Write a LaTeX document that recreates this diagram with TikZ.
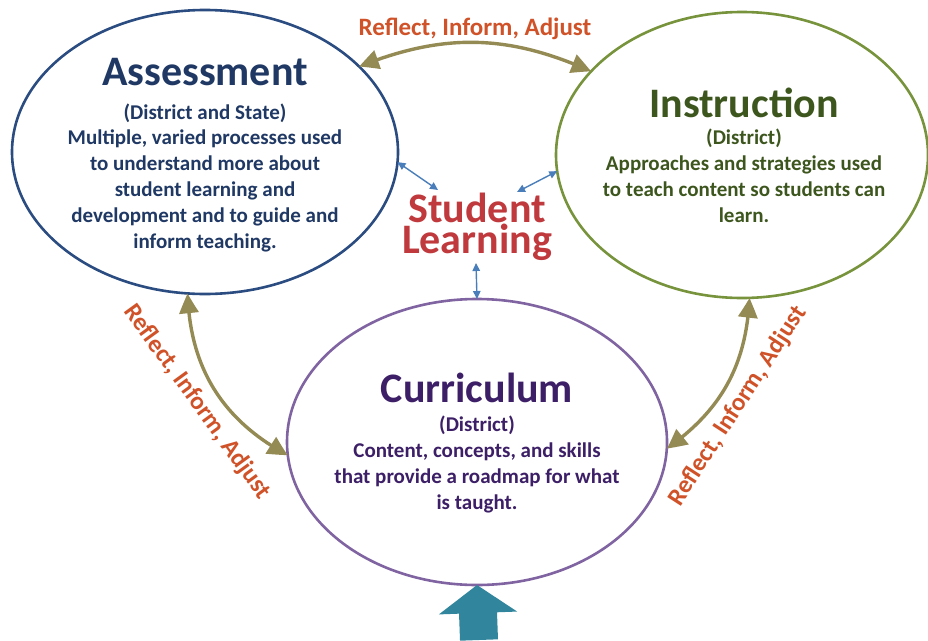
\documentclass[tikz,border=0pt]{standalone}
\usepackage{fontspec}
\setmainfont{Carlito}
\usetikzlibrary{shapes.geometric,arrows.meta,bending}
\definecolor{asmtline}{HTML}{2B4C80}
\definecolor{asmttext}{HTML}{1F3864}
\definecolor{instline}{HTML}{77933C}
\definecolor{insttext}{HTML}{3D561E}
\definecolor{curline}{HTML}{8064A2}
\definecolor{curtext}{HTML}{3C1F66}
\definecolor{slred}{HTML}{BF393D}
\definecolor{rialab}{HTML}{D05228}
\definecolor{olivearr}{HTML}{948A54}
\definecolor{smallblue}{HTML}{4A7EBB}
\definecolor{tealarr}{HTML}{31859C}
\begin{document}
\begin{tikzpicture}[x=1pt,y=-1pt,
  ell/.style={ellipse, inner sep=0pt, outer sep=0pt, line width=2.6pt, fill=white},
  title/.style={font=\fontsize{42}{50}\selectfont\bfseries, anchor=base, inner sep=0pt},
  body/.style={font=\fontsize{21}{25.8}\selectfont\bfseries, anchor=base, align=center, inner sep=0pt},
  rialabel/.style={font=\fontsize{25}{30}\selectfont\bfseries, text=rialab, inner sep=0pt},
  olivecon/.style={draw=olivearr, line width=3.4pt, {Triangle[length=20pt,width=19pt,bend]}-{Triangle[length=20pt,width=19pt,bend]}},
  bluecon/.style={draw=smallblue, line width=1.4pt, {Triangle[length=8pt,width=7.5pt]}-{Triangle[length=8pt,width=7.5pt]}}
]
\useasboundingbox (0,0) rectangle (928,640);

% ellipses
\node[ell, draw=asmtline, minimum width=386pt, minimum height=284pt] (A) at (205,152) {};
\node[ell, draw=instline, minimum width=372pt, minimum height=286pt] (I) at (742,155) {};
\node[ell, draw=curline, minimum width=380pt, minimum height=286pt] (C) at (477,442) {};

% Assessment text (base = last line baseline)
\node[title, text=asmttext] (At) at (205,85) {Assessment};
\node[body, text=asmttext] (Ab) at (205,248) {(District and State)\\Multiple, varied processes used\\to understand more about\\student learning and\\development and to guide and\\inform teaching.};

% Instruction text
\node[title, text=insttext] (It) at (744,117) {Instruction};
\node[body, text=insttext] (Ib) at (744,222) {(District)\\Approaches and strategies used\\to teach content so students can\\learn.};

% Curriculum text
\node[title, text=curtext] (Ct) at (477,402) {Curriculum};
\node[body, text=curtext] (Cb) at (477,509) {(District)\\Content, concepts, and skills\\that provide a roadmap for what\\is taught.};

% Student Learning
\node[font=\fontsize{42}{31}\selectfont\bfseries, text=slred, align=center, anchor=base, inner sep=0pt] (SL) at (477,253) {Student\\Learning};

% reflect labels
\node[rialabel, anchor=base] (L1) at (475,35) {Reflect, Inform, Adjust};
\node[rialabel, rotate=-54] (L2) at (197,402) {Reflect, Inform, Adjust};
\node[rialabel, rotate=57] (L3) at (738,406) {Reflect, Inform, Adjust};

% olive connectors
\draw[olivecon] (A.29) to[bend left=23] (I.151);
\draw[olivecon] (A.-97) to[bend right=30] (C.184);
\draw[olivecon] (I.-87) to[bend left=26] (C.-2);

% small blue connectors
\coordinate (s1) at (438,190);
\coordinate (s2) at (517,192);
\coordinate (s3) at (476,263);
\draw[bluecon] (A.-3) -- (s1);
\draw[bluecon] (s2) -- (I.185);
\draw[bluecon] (s3) -- (C.90);

% teal input arrow
\coordinate (tin) at (479,640);
\draw[draw=tealarr, line width=38pt, -{Triangle[length=28pt,width=77pt]}] (tin) -- (C.south);
\end{tikzpicture}
\end{document}
